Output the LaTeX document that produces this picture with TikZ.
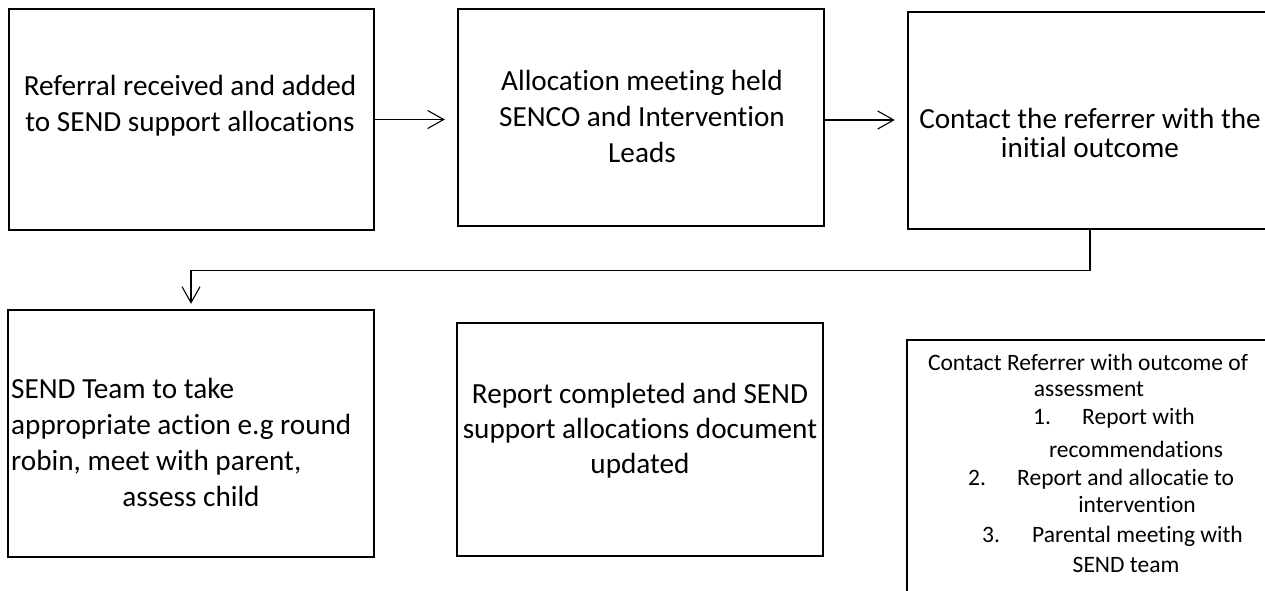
\documentclass[tikz,border=0pt]{standalone}
\usepackage{fontspec}
\setmainfont{Carlito}[Ligatures={NoCommon}]
\usetikzlibrary{arrows.meta}
\tikzset{
  box/.style={draw=black, line width=2.4pt, rectangle, inner sep=0pt},
  txt/.style={inner sep=0pt, font=\fontsize{29.2}{35}\selectfont},
  small/.style={inner sep=0pt, font=\fontsize{23.5}{28}\selectfont},
  arr/.style={draw=black, line width=1.1pt, -{Straight Barb[length=16pt,width=18pt,line width=1.1pt]}}
}
\begin{document}
\begin{tikzpicture}[x=1pt,y=-1pt]
\useasboundingbox (0,0) rectangle (1265,590);
\clip (0,0) rectangle (1265,590);
% boxes
\node[box, minimum width=365pt, minimum height=221pt] (b1) at (191.5,119.5) {};
\node[box, minimum width=366pt, minimum height=217pt] (b2) at (641,117.5) {};
\node[box, minimum width=364pt, minimum height=217pt] (b3) at (1090,120.5) {};
\node[box, minimum width=366pt, minimum height=247pt] (b4) at (191,433.5) {};
\node[box, minimum width=366pt, minimum height=233pt] (b5) at (640,439.5) {};
\node[box, minimum width=364pt, minimum height=260pt] (b6) at (1089,470) {};
% box 1 text
\node[txt, anchor=base] (t1a) at (190,95) {Referral received and added};
\node[txt, anchor=base] (t1b) at (190,131) {to SEND support allocations};
% box 2 text
\node[txt, anchor=base] (t2a) at (642,90) {Allocation meeting held};
\node[txt, anchor=base] (t2b) at (642,126) {SENCO and Intervention};
\node[txt, anchor=base] (t2c) at (642,162) {Leads};
% box 3 text
\node[txt, anchor=base] (t3a) at (1090,128) {Contact the referrer with the};
\node[txt, anchor=base] (t3b) at (1090,157) {initial outcome};
% box 4 text
\node[txt, anchor=base west] (t4a) at (11,398) {SEND Team to take};
\node[txt, anchor=base west] (t4b) at (11,434) {appropriate action e.g round};
\node[txt, anchor=base west] (t4c) at (11,470) {robin, meet with parent,};
\node[txt, anchor=base] (t4d) at (191,506) {assess child};
% box 5 text
\node[txt, anchor=base] (t5a) at (640,403) {Report completed and SEND};
\node[txt, anchor=base] (t5b) at (640,438) {support allocations document};
\node[txt, anchor=base] (t5c) at (640,473) {updated};
% box 6 text
\node[small, anchor=base] (t6a) at (1088,370) {Contact Referrer with outcome of};
\node[small, anchor=base] (t6b) at (1089,396) {assessment};
\node[small, anchor=base west] (t6c1) at (1033,424) {1.};
\node[small, anchor=base west] (t6c2) at (1082,424) {Report with};
\node[small, anchor=base] (t6d) at (1136,457) {recommendations};
\node[small, anchor=base west] (t6e1) at (968,485) {2.};
\node[small, anchor=base west] (t6e2) at (1017,485) {Report and allocatie to};
\node[small, anchor=base] (t6f) at (1137,512) {intervention};
\node[small, anchor=base west] (t6g1) at (982,542) {3.};
\node[small, anchor=base west] (t6g2) at (1032,542) {Parental meeting with};
\node[small, anchor=base] (t6h) at (1126,572) {SEND team};
% connectors
\draw[arr, shorten >=10pt] ([xshift=-2pt]b1.east) -- ([xshift=-2pt]b1.east -| b2.west);
\draw[arr, shorten >=10pt] ([xshift=-2pt,yshift=-2.5pt]b2.east) -- ([xshift=-2pt,yshift=-2.5pt]b2.east -| b3.west);
\draw[arr, shorten >=5pt] (b3.south) -- ++(0,40) -| (b4.north);
\end{tikzpicture}
\end{document}
